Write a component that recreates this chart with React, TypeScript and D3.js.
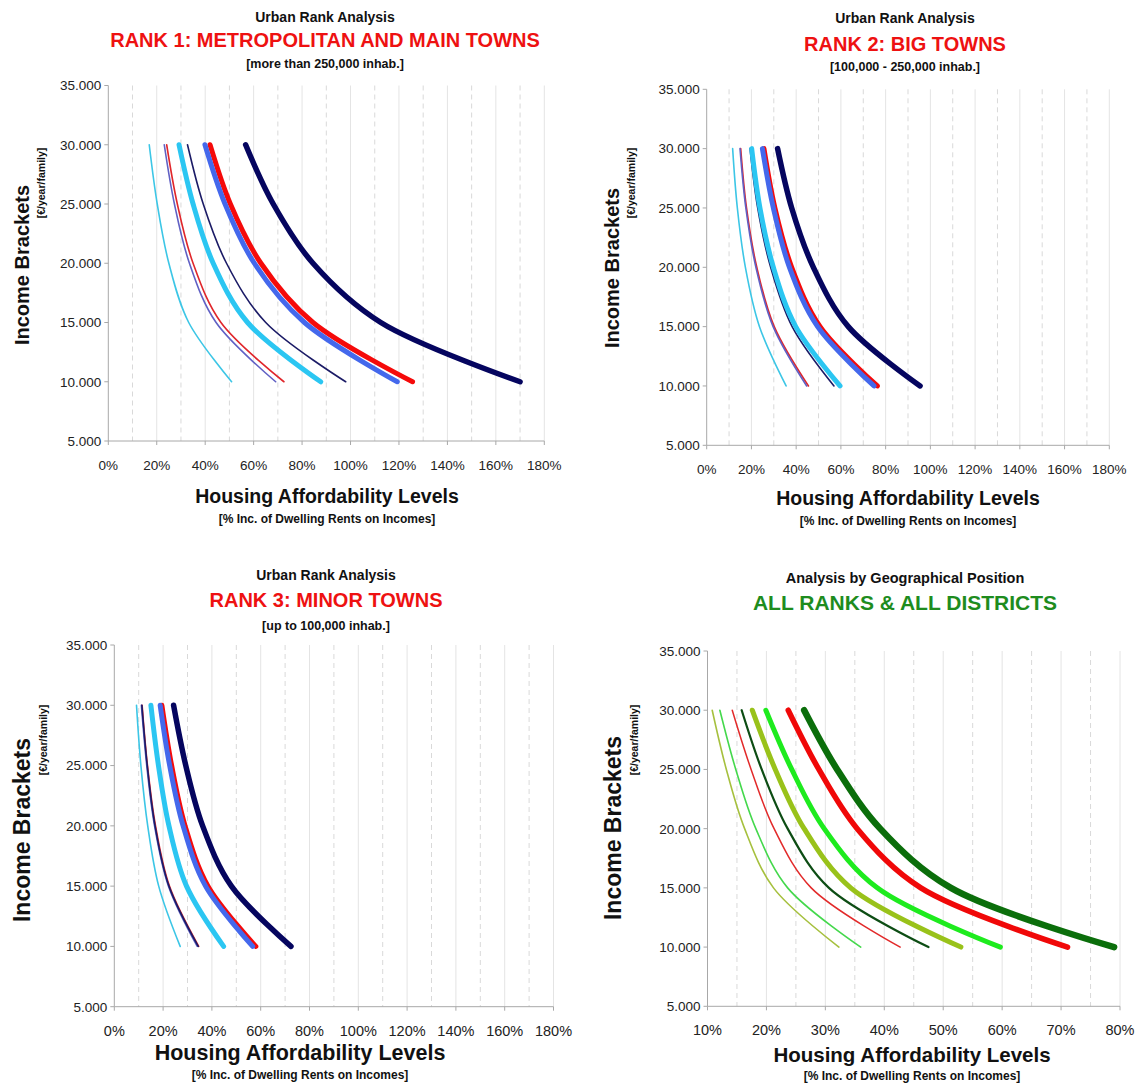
import React from "react";
import * as d3 from "d3";

// ---------- DATA ----------
const incomeBrackets = [30000, 25000, 20000, 15000, 10000];
const yTickValues = [5000, 10000, 15000, 20000, 25000, 30000, 35000];
const rankXTicks = [0, 20, 40, 60, 80, 100, 120, 140, 160, 180];
const rankXMinor = [10, 30, 50, 70, 90, 110, 130, 150, 170];
const geoXTicks = [10, 20, 30, 40, 50, 60, 70, 80];
const geoXMinor = [15, 25, 35, 45, 55, 65, 75];

// series order: thinRed, thinSlate, thinNavy, thinCyan, thickRed, thickRoyal, thickCyan, thickNavy
const rankSeriesNames = ["thinRed", "thinSlate", "thinNavy", "thinCyan", "thickRed", "thickRoyal", "thickCyan", "thickNavy"];

const rank1Values = [
  [24.1, 28.5, 35.0, 46.5, 72.5],
  [23.1, 27.3, 33.5, 44.5, 69.1],
  [32.7, 39.2, 48.8, 65.0, 98.0],
  [16.9, 20.2, 25.0, 33.2, 50.9],
  [42.0, 50.4, 63.0, 84.5, 125.6],
  [39.9, 48.2, 60.3, 81.0, 119.3],
  [29.2, 35.0, 43.3, 57.5, 87.7],
  [56.7, 68.1, 84.5, 112.5, 170.0],
];

const rank2Values = [
  [15.2, 17.8, 22.4, 30.2, 45.5],
  [14.9, 17.5, 22.0, 29.7, 44.7],
  [19.4, 22.8, 28.6, 38.2, 56.9],
  [11.6, 13.7, 17.3, 23.6, 35.5],
  [25.6, 30.5, 38.0, 50.7, 76.3],
  [24.9, 29.8, 37.0, 49.6, 74.8],
  [20.1, 23.8, 29.8, 39.8, 59.6],
  [31.7, 38.0, 47.7, 63.3, 95.4],
];

const rank3Values = [
  [11.4, 13.6, 16.9, 22.6, 34.6],
  [11.1, 13.3, 16.5, 22.2, 34.0],
  [11.3, 13.5, 16.7, 22.4, 34.4],
  [9.1, 10.9, 13.7, 18.2, 27.0],
  [19.5, 23.5, 29.0, 38.4, 58.0],
  [18.8, 22.7, 28.2, 37.4, 56.7],
  [15.0, 18.1, 22.4, 29.6, 44.8],
  [24.3, 29.3, 36.2, 48.0, 72.4],
];

// order: thinYellowGreen, thinLightGreen, thinRed, thinDarkGreen, thickYellowGreen, thickBrightGreen, thickRed, thickDarkGreen
const geoSeriesNames = ["thinYellowGreen", "thinLightGreen", "thinRed", "thinDarkGreen", "thickYellowGreen", "thickBrightGreen", "thickRed", "thickDarkGreen"];
const geoValues = [
  [10.8, 13.2, 16.3, 21.2, 32.3],
  [12.1, 14.8, 18.2, 23.6, 36.0],
  [14.2, 17.4, 21.3, 27.6, 42.7],
  [15.8, 19.2, 23.6, 30.6, 47.5],
  [17.6, 21.5, 26.4, 34.3, 53.0],
  [19.9, 24.3, 29.8, 38.8, 59.7],
  [23.7, 28.9, 35.4, 46.2, 71.1],
  [26.4, 32.0, 39.3, 51.3, 79.0],
];

// ---------- STYLES ----------
const rankStyles: Record<string, { color: string; width: number }> = {
  thinRed: { color: "#E0262B", width: 1.6 },
  thinSlate: { color: "#6060C4", width: 1.6 },
  thinNavy: { color: "#1B1B66", width: 1.6 },
  thinCyan: { color: "#3CC6E6", width: 1.6 },
  thickRed: { color: "#F50A0A", width: 5 },
  thickRoyal: { color: "#4468EC", width: 5 },
  thickCyan: { color: "#2BC6F2", width: 5 },
  thickNavy: { color: "#05055F", width: 5.5 },
};
const geoStyles: Record<string, { color: string; width: number }> = {
  thinYellowGreen: { color: "#A6C03E", width: 1.6 },
  thinLightGreen: { color: "#44D84C", width: 1.6 },
  thinRed: { color: "#E22A2A", width: 1.5 },
  thinDarkGreen: { color: "#0D4D14", width: 2.2 },
  thickYellowGreen: { color: "#99C21A", width: 5 },
  thickBrightGreen: { color: "#1EEB1E", width: 5 },
  thickRed: { color: "#F00808", width: 5.5 },
  thickDarkGreen: { color: "#0B6E0B", width: 6.5 },
};

const FONT = "'Liberation Sans', Arial, Helvetica, sans-serif";

type PanelCfg = {
  left: number; right: number; top: number; bottom: number;
  xDomain: [number, number]; majors: number[]; minors: number[];
  values: number[][]; names: string[]; styles: Record<string, { color: string; width: number }>;
  titles: { text: string; size: number; color: string; y: number }[];
  titleX: number;
  xTitleY: number; xSubY: number; xTitleSize: number; xTitleX: number;
  yTitleX: number; yTitleY: number; ySubX: number; ySubY: number; yTitleSize: number;
  tickSize: number; xTickSize: number;
};

const fmtY = (v: number) => d3.format(",")(v).replace(/,/g, ".");

function Panel({ cfg }: { cfg: PanelCfg }) {
  const x = d3.scaleLinear().domain(cfg.xDomain).range([cfg.left, cfg.right]);
  const y = d3.scaleLinear().domain([5000, 35000]).range([cfg.bottom, cfg.top]);
  const line = d3
    .line<number>()
    .x((d) => x(d))
    .y((_d, i) => y(incomeBrackets[i]))
    .curve(d3.curveCatmullRom.alpha(0.5));
  return (
    <g fontFamily={FONT}>
      {cfg.titles.map((t, i) => (
        <text key={i} x={cfg.titleX} y={t.y} textAnchor="middle" fontWeight="bold" fontSize={t.size} fill={t.color}>
          {t.text}
        </text>
      ))}
      {/* grid */}
      {cfg.minors.map((v) => (
        <line key={"mn" + v} x1={x(v)} x2={x(v)} y1={y(35000)} y2={y(5000)} stroke="#D9D9D9" strokeWidth={1} strokeDasharray="5,4" />
      ))}
      {cfg.majors.slice(1).map((v) => (
        <line key={"mj" + v} x1={x(v)} x2={x(v)} y1={y(35000)} y2={y(5000)} stroke="#E4E4E4" strokeWidth={1} />
      ))}
      {/* axes */}
      <line x1={x(cfg.xDomain[0])} x2={x(cfg.xDomain[0])} y1={y(35000)} y2={y(5000)} stroke="#A8A8A8" strokeWidth={1} />
      <line x1={x(cfg.xDomain[0])} x2={x(cfg.xDomain[1])} y1={y(5000)} y2={y(5000)} stroke="#A8A8A8" strokeWidth={1} />
      {yTickValues.map((v) => (
        <g key={"yt" + v}>
          <line x1={cfg.left - 4} x2={cfg.left} y1={y(v)} y2={y(v)} stroke="#A8A8A8" />
          <text x={cfg.left - 7} y={y(v)} dy="0.36em" textAnchor="end" fontSize={cfg.tickSize} fill="#222">
            {fmtY(v)}
          </text>
        </g>
      ))}
      {cfg.majors.map((v) => (
        <g key={"xt" + v}>
          <line x1={x(v)} x2={x(v)} y1={y(5000)} y2={y(5000) + 4} stroke="#A8A8A8" />
          <text x={x(v)} y={y(5000) + 29} textAnchor="middle" fontSize={cfg.xTickSize} fill="#222">
            {v + "%"}
          </text>
        </g>
      ))}
      {/* series */}
      {cfg.values.map((vals, i) => {
        const st = cfg.styles[cfg.names[i]];
        return (
          <path key={"s" + i} d={line(vals) || ""} fill="none" stroke={st.color} strokeWidth={st.width} strokeLinecap="round" strokeLinejoin="round" />
        );
      })}
      {/* axis titles */}
      <text x={cfg.xTitleX} y={cfg.xTitleY} textAnchor="middle" fontWeight="bold" fontSize={cfg.xTitleSize} fill="#111">
        Housing Affordability Levels
      </text>
      <text x={cfg.xTitleX} y={cfg.xSubY} textAnchor="middle" fontWeight="bold" fontSize={12} fill="#111">
        [% Inc. of Dwelling Rents on Incomes]
      </text>
      <text transform={`translate(${cfg.yTitleX},${cfg.yTitleY}) rotate(-90)`} textAnchor="middle" fontWeight="bold" fontSize={cfg.yTitleSize} fill="#111">
        Income Brackets
      </text>
      <text transform={`translate(${cfg.ySubX},${cfg.ySubY}) rotate(-90)`} textAnchor="middle" fontWeight="bold" fontSize={10.5} fill="#111">
        [€/year/family]
      </text>
    </g>
  );
}

const panels: PanelCfg[] = [
  {
    left: 108.3, right: 544.3, top: 85.5, bottom: 441,
    xDomain: [0, 180], majors: rankXTicks, minors: rankXMinor,
    values: rank1Values, names: rankSeriesNames, styles: rankStyles,
    titleX: 325,
    titles: [
      { text: "Urban Rank Analysis", size: 14, color: "#111", y: 22 },
      { text: "RANK 1: METROPOLITAN AND MAIN TOWNS", size: 20, color: "#EE1111", y: 47 },
      { text: "[more than 250,000 inhab.]", size: 12.5, color: "#111", y: 68 },
    ],
    xTitleX: 327, xTitleY: 503, xSubY: 523, xTitleSize: 19.5,
    yTitleX: 29, yTitleY: 265, ySubX: 45, ySubY: 183, yTitleSize: 20,
    tickSize: 13.5, xTickSize: 13.5,
  },
  {
    left: 706.7, right: 1109.3, top: 89.3, bottom: 445.3,
    xDomain: [0, 180], majors: rankXTicks, minors: rankXMinor,
    values: rank2Values, names: rankSeriesNames, styles: rankStyles,
    titleX: 905,
    titles: [
      { text: "Urban Rank Analysis", size: 14, color: "#111", y: 23 },
      { text: "RANK 2: BIG TOWNS", size: 20, color: "#EE1111", y: 51 },
      { text: "[100,000 - 250,000 inhab.]", size: 12.5, color: "#111", y: 71 },
    ],
    xTitleX: 908, xTitleY: 505, xSubY: 525, xTitleSize: 19.5,
    yTitleX: 619, yTitleY: 268, ySubX: 635, ySubY: 183, yTitleSize: 20,
    tickSize: 13.5, xTickSize: 13.5,
  },
  {
    left: 114.3, right: 553.5, top: 645, bottom: 1006.7,
    xDomain: [0, 180], majors: rankXTicks, minors: rankXMinor,
    values: rank3Values, names: rankSeriesNames, styles: rankStyles,
    titleX: 326,
    titles: [
      { text: "Urban Rank Analysis", size: 14, color: "#111", y: 580 },
      { text: "RANK 3: MINOR TOWNS", size: 20, color: "#EE1111", y: 607 },
      { text: "[up to 100,000 inhab.]", size: 12.5, color: "#111", y: 630 },
    ],
    xTitleX: 300, xTitleY: 1060, xSubY: 1079, xTitleSize: 21.5,
    yTitleX: 30, yTitleY: 830, ySubX: 47, ySubY: 740, yTitleSize: 23,
    tickSize: 13.5, xTickSize: 14.5,
  },
  {
    left: 707.5, right: 1120, top: 651, bottom: 1006.3,
    xDomain: [10, 80], majors: geoXTicks, minors: geoXMinor,
    values: geoValues, names: geoSeriesNames, styles: geoStyles,
    titleX: 905,
    titles: [
      { text: "Analysis by Geographical Position", size: 14.5, color: "#111", y: 583 },
      { text: "ALL RANKS & ALL DISTRICTS", size: 21, color: "#1E8C1E", y: 610 },
    ],
    xTitleX: 912, xTitleY: 1062, xSubY: 1080, xTitleSize: 20.5,
    yTitleX: 621, yTitleY: 828, ySubX: 638, ySubY: 740, yTitleSize: 23,
    tickSize: 13.5, xTickSize: 14.5,
  },
];

export default function App() {
  return (
    <div style={{ position: "absolute", left: 0, top: 0 }}>
      <svg width={1138} height={1084} style={{ display: "block", background: "#fff" }}>
        <rect width={1138} height={1084} fill="#fff" />
        {panels.map((p, i) => (
          <Panel key={i} cfg={p} />
        ))}
      </svg>
    </div>
  );
}
